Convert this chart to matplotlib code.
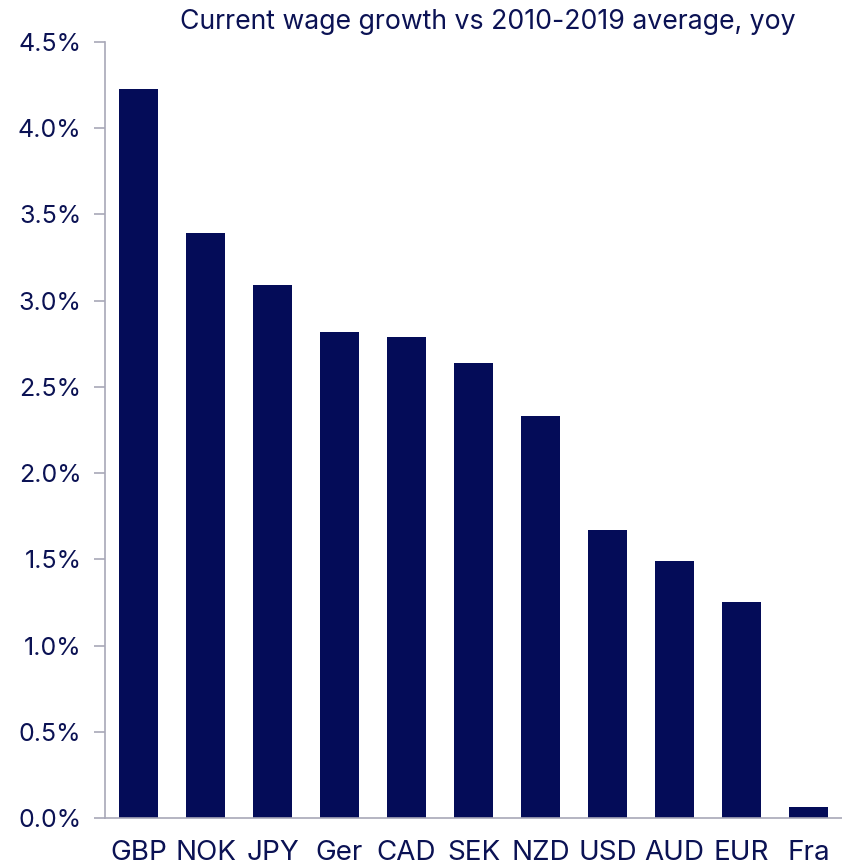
import matplotlib
matplotlib.use("Agg")
import matplotlib.pyplot as plt
from matplotlib.ticker import FuncFormatter, MultipleLocator

categories = ["GBP", "NOK", "JPY", "Ger", "CAD", "SEK", "NZD", "USD", "AUD", "EUR", "Fra"]
values = [4.23, 3.39, 3.09, 2.82, 2.79, 2.64, 2.33, 1.67, 1.49, 1.25, 0.065]
title = "Current wage growth vs 2010-2019 average, yoy"

navy = "#040C58"
text_c = "#0B1254"
axis_c = "#A8A8B8"

plt.rcParams["font.family"] = ["Inter", "DejaVu Sans"]

fig = plt.figure(figsize=(8.42, 8.65), dpi=100)
ax = fig.add_axes([105/842, 1-818/865, 1-105/842, (818-42)/865])
x = list(range(len(categories)))
ax.bar(x, values, width=0.57, color=navy, zorder=2)
ax.set_xlim(-0.5, len(categories)-0.5)
ax.set_ylim(0, 4.5)
ax.yaxis.set_major_locator(MultipleLocator(0.5))
ax.yaxis.set_major_formatter(FuncFormatter(lambda v, p: f"{v:.1f}%"))
ax.set_xticks(x)
ax.set_xticklabels(categories)
for s in ["top", "right"]:
    ax.spines[s].set_visible(False)
for s in ["left", "bottom"]:
    ax.spines[s].set_color(axis_c)
    ax.spines[s].set_linewidth(1.2)
ax.tick_params(axis="y", colors=axis_c, labelcolor=text_c, labelsize=18, length=8, width=1.2, pad=9)
ax.tick_params(axis="x", length=0, labelcolor=text_c, labelsize=20, pad=16)
fig.text(488/842, 1-22/865, title, ha="center", va="center", color=text_c, fontsize=19.2)
fig.savefig("out.png", dpi=100)
